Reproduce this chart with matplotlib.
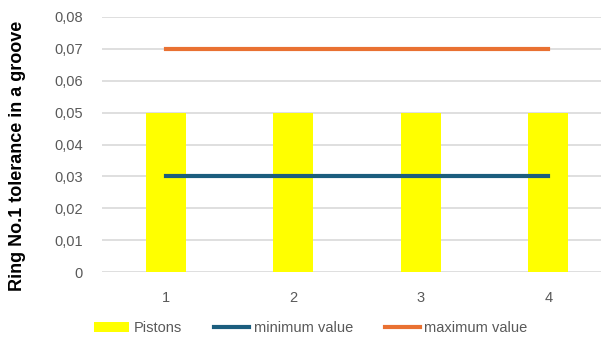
import numpy as np
import matplotlib.pyplot as plt

categories = ["1", "2", "3", "4"]
pistons = [0.05, 0.05, 0.05, 0.05]
minimum_value = [0.03, 0.03, 0.03, 0.03]
maximum_value = [0.07, 0.07, 0.07, 0.07]
yticks = [0, 0.01, 0.02, 0.03, 0.04, 0.05, 0.06, 0.07, 0.08]
ytick_labels = ["0", "0,01", "0,02", "0,03", "0,04", "0,05", "0,06", "0,07", "0,08"]

plt.rcParams['font.family'] = ['Liberation Sans', 'DejaVu Sans']

fig = plt.figure(figsize=(6.01, 3.41), dpi=100)
# plot area runs past the right edge of the figure
ax = fig.add_axes([102 / 601, 69 / 341, 510 / 601, 255 / 341])

x = np.arange(len(categories))
bars = ax.bar(x, pistons, width=0.31, color="#FFFF00", label="Pistons", zorder=2)
l_min, = ax.plot(x, minimum_value, color="#1B5E7E", linewidth=3, label="minimum value", zorder=3)
l_max, = ax.plot(x, maximum_value, color="#E97132", linewidth=3, label="maximum value", zorder=3)

ax.set_xlim(-0.5, 3.5)
ax.set_ylim(0, 0.08)
ax.set_yticks(yticks)
ax.set_yticklabels(ytick_labels)
ax.set_xticks(x)
ax.set_xticklabels(categories)
ax.tick_params(axis="both", length=0, colors="#595959", labelsize=10.5)
ax.tick_params(axis="y", pad=14)
ax.tick_params(axis="x", pad=14)
ax.yaxis.grid(True, color="#D9D9D9", linewidth=1.2, zorder=0)
for s in ax.spines.values():
    s.set_visible(False)
ax.set_axisbelow(True)

ax.set_ylabel("Ring No.1 tolerance in a groove", fontsize=13, fontweight="bold")
ax.yaxis.set_label_coords(-(102 - 26) / 510, 0.455)

leg = fig.legend([bars, l_min, l_max], ["Pistons", "minimum value", "maximum value"],
                 loc="center", bbox_to_anchor=(311 / 601, 1 - 328 / 341), ncol=3, frameon=False,
                 fontsize=10.5, handlelength=2.4, handletextpad=0.3, columnspacing=2.2)
for t in leg.get_texts():
    t.set_color("#595959")

fig.savefig("out.png", dpi=100)
